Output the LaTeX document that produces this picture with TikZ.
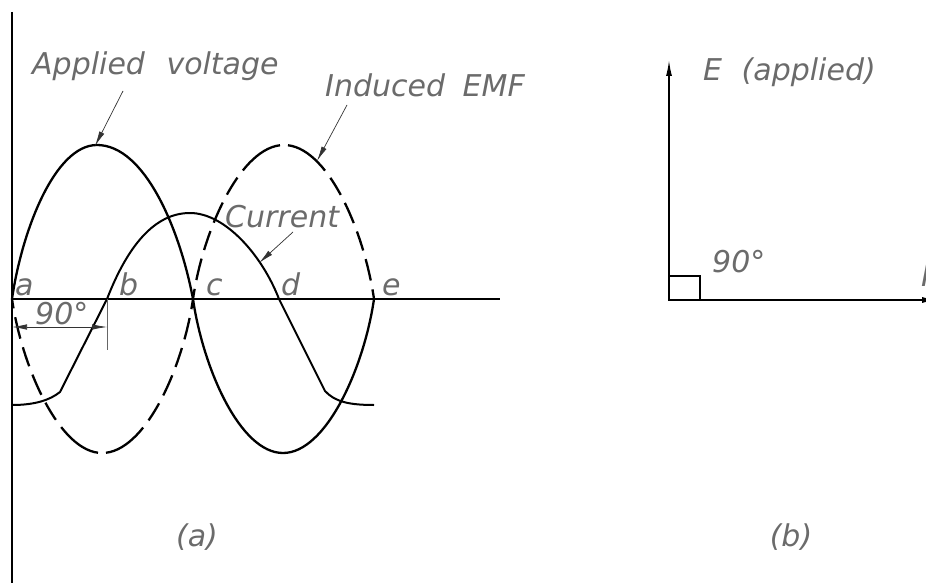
\documentclass[tikz,border=0pt]{standalone}
\usepackage{fontspec}
\setmainfont{DejaVu Sans}
\usetikzlibrary{arrows.meta}
\begin{document}
\begin{tikzpicture}[x=1pt,y=-1pt,
  lbl/.style={font=\fontsize{30}{32}\selectfont\itshape, text=black!58, inner sep=0pt},
  wave/.style={line width=2.3pt, line join=round},
  cur/.style={line width=2pt, line join=round},
  emf/.style={line width=2.3pt, dash pattern=on 0pt off 4pt on 46pt off 9pt on 20pt off 9pt on 22pt off 9pt on 20pt off 9pt on 22pt off 9pt on 40pt off 200pt},
  leader/.style={line width=0.7pt, black!80, -{Latex[length=15pt,width=5.5pt]}},
  dimline/.style={line width=0.7pt, black!80, {Latex[length=15pt,width=5.5pt]}-{Latex[length=15pt,width=5.5pt]}},
  extline/.style={line width=0.7pt, black!60},
  axisline/.style={line width=1.3pt},
  vec/.style={line width=1.5pt, -{Latex[length=16pt,width=6pt]}}]
\useasboundingbox (0,0) rectangle (926,583);
\fill[white] (0,0) rectangle (926,583);

% reference points
\coordinate (A) at (12,299);
\coordinate (B) at (107,299);
\coordinate (C) at (193,299);
\coordinate (D) at (279,299);
\coordinate (E) at (374,299);
\coordinate (axisEnd) at (500,299);

% left vertical line and axis
\draw[line width=2.5pt] (12,12) -- (12,583);
\draw[axisline] (A) -- (axisEnd);

% applied voltage
\draw[wave] (A) .. controls (22,230) and (55,145) .. (97,145)
  .. controls (145,145) and (180,230) .. (C)
  .. controls (203,368) and (240,453) .. (283,453)
  .. controls (326,453) and (364,368) .. (E);

% induced EMF (dashed), each quarter drawn from its peak outward
\draw[emf] (102,453) .. controls (60,453) and (22,368) .. (A);
\draw[emf] (102,453) .. controls (145,453) and (183,368) .. (C);
\draw[emf] (284,145) .. controls (241,145) and (203,230) .. (C);
\draw[emf] (284,145) .. controls (327,145) and (364,230) .. (E);

% current
\draw[cur] (12,405) .. controls (35,405) and (50,400) .. (60,392) -- (B)
  .. controls (128,245) and (155,213) .. (190,213)
  .. controls (225,213) and (262,255) .. (D)
  -- (325,391) .. controls (335,402) and (350,405) .. (374,405);

% labels on axis
\node[lbl, anchor=base west] (la) at (15,295) {a};
\node[lbl, anchor=base west] (lb) at (119,295) {b};
\node[lbl, anchor=base west] (lc) at (206,295) {c};
\node[lbl, anchor=base west] (ld) at (281,295) {d};
\node[lbl, anchor=base west] (le) at (382,295) {e};

% callouts
\node[lbl, anchor=base west] (tav) at (32,75) {Applied\hspace{12pt} voltage};
\coordinate (avTail) at (123,91);
\coordinate (avTip) at (95,146);
\draw[leader] (avTail) -- (avTip);

\node[lbl, anchor=base west] (temf) at (325,97) {Induced\hspace{8pt} EMF};
\coordinate (emfTail) at (347,105);
\coordinate (emfTip) at (317,161);
\draw[leader] (emfTail) -- (emfTip);

\node[lbl, anchor=base west] (tcur) at (225,227) {Current};
\coordinate (curTail) at (293,232);
\coordinate (curTip) at (259,263);
\draw[leader] (curTail) -- (curTip);

% 90 degree dimension
\coordinate (dimL) at (12,327);
\coordinate (dimR) at (107,327);
\coordinate (extBot) at (107,350);
\draw[extline] (B) -- (extBot);
\draw[dimline] (dimL) -- (dimR);
\node[lbl, anchor=base west] (t90a) at (35,324) {90°};

\node[lbl] (capa) at (197,537) {(a)};

% phasor diagram
\coordinate (O) at (669,300);
\coordinate (Etip) at (669,60);
\coordinate (Itip) at (938,300);
\draw[vec] (O) -- (Etip);
\draw[vec] (O) -- (Itip);
\draw[line width=1.5pt] (669,276) rectangle (700,300);
\node[lbl, anchor=base west] (tE) at (703,81) {E\hspace{10pt} (applied)};
\node[lbl, anchor=base west] (t90b) at (712,272) {90°};
\node[lbl, anchor=base west] (tI) at (921,286) {I};
\node[lbl] (capb) at (791,537) {(b)};
\end{tikzpicture}
\end{document}
